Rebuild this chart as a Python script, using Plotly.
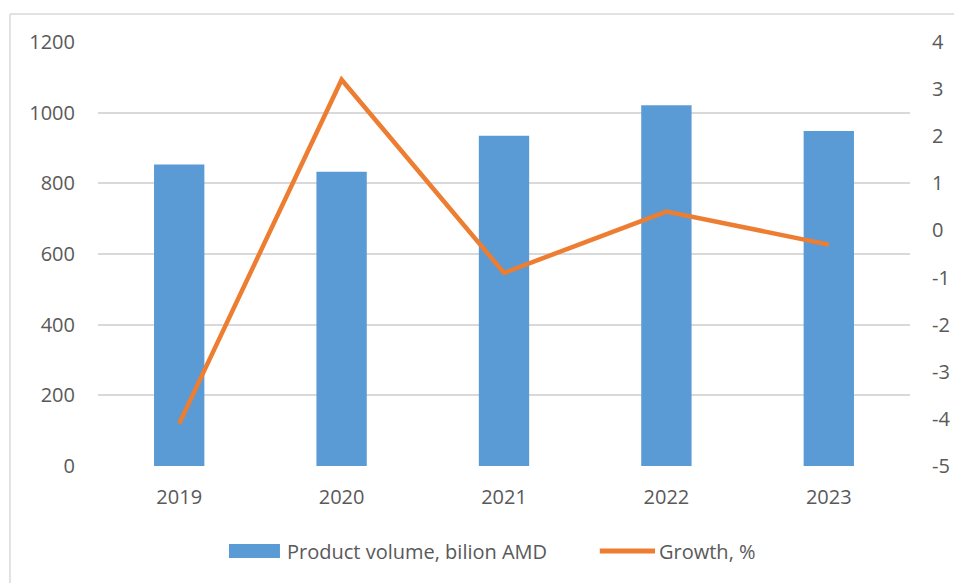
import plotly.graph_objects as go

years = ["2019", "2020", "2021", "2022", "2023"]
volume = [853, 833, 935, 1021, 948]
growth = [-4.1, 3.2, -0.9, 0.4, -0.3]

# right axis ticks use a plain hyphen, like the original
growth_ticks = [-5, -4, -3, -2, -1, 0, 1, 2, 3, 4]
growth_labels = [str(t) for t in growth_ticks]

BLUE = "#5B9BD5"
ORANGE = "#ED7D31"
GRID = "#D9D9D9"
TEXT = "#595959"
FONT = "Open Sans"

fig = go.Figure()

fig.add_trace(go.Bar(
    x=years, y=volume,
    name="Product volume, bilion AMD",
    marker=dict(color=BLUE, line=dict(width=0)),
    yaxis="y",
))

fig.add_trace(go.Scatter(
    x=years, y=growth,
    name="Growth, %",
    mode="lines",
    line=dict(color=ORANGE, width=4.5),
    yaxis="y2",
))

fig.update_layout(
    width=954, height=583,
    plot_bgcolor="white", paper_bgcolor="white",
    font=dict(family=FONT, size=20, color=TEXT),
    margin=dict(l=98, r=44, t=42, b=117, autoexpand=False),
    bargap=0.69,
    showlegend=False,
    xaxis=dict(
        showgrid=False, showline=False, zeroline=False,
        ticks="", ticklabelstandoff=17, automargin=False,
    ),
    yaxis=dict(
        range=[0, 1200], dtick=200,
        showgrid=True, gridcolor=GRID, gridwidth=2,
        zeroline=False, showline=False,
        ticklabelstandoff=22, automargin=False,
    ),
    yaxis2=dict(
        range=[-5, 4],
        tickvals=growth_ticks, ticktext=growth_labels,
        overlaying="y", side="right",
        showgrid=False, zeroline=False, showline=False,
        ticklabelstandoff=21, automargin=False,
    ),
)

# legend drawn by hand so the keys have the original's shape
fig.add_shape(type="rect", xref="paper", yref="paper",
              x0=0.1613, x1=0.2241, y0=-0.217, y1=-0.184,
              fillcolor=BLUE, line=dict(width=0))
fig.add_annotation(text=fig.data[0].name, xref="paper", yref="paper",
                   x=0.2303, y=-0.2005, xanchor="left", yanchor="middle",
                   showarrow=False, font=dict(size=20, color=TEXT))
fig.add_shape(type="line", xref="paper", yref="paper",
              x0=0.618, x1=0.686, y0=-0.2005, y1=-0.2005,
              line=dict(color=ORANGE, width=5))
fig.add_annotation(text=fig.data[1].name, xref="paper", yref="paper",
                   x=0.688, y=-0.2005, xanchor="left", yanchor="middle",
                   showarrow=False, font=dict(size=20, color=TEXT))

# outer chart frame: only the left and top edges are in view
fig.add_shape(type="line", xref="paper", yref="paper",
              x0=-0.1084, x1=-0.1084, y0=-0.4, y1=1.066,
              line=dict(color=GRID, width=1.5), layer="below")
fig.add_shape(type="line", xref="paper", yref="paper",
              x0=-0.1084, x1=1.1, y0=1.066, y1=1.066,
              line=dict(color=GRID, width=1.5), layer="below")

# drop the body margin so the figure fills the window without scrollbars
fig.write_html(
    "out.html",
    config={"displayModeBar": False},
    post_script="document.body.style.margin='0';document.body.style.overflow='hidden';",
)
